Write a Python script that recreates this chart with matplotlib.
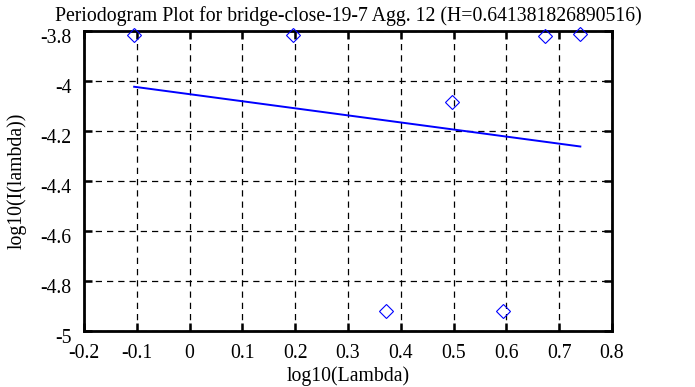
import matplotlib.pyplot as plt
from matplotlib.ticker import FuncFormatter
from matplotlib.transforms import ScaledTranslation

# periodogram points (log10 lambda, log10 I(lambda))
log_lambda = [-0.105, 0.196, 0.372, 0.497, 0.594, 0.673, 0.740]
log_i = [-3.816, -3.817, -4.919, -4.084, -4.919, -3.821, -3.813]

# fitted line endpoints
fit_x = [-0.105, 0.740]
fit_y = [-4.023, -4.262]

title = "Periodogram Plot for bridge-close-19-7 Agg. 12 (H=0.641381826890516)"

plt.rcParams['font.family'] = ['Liberation Serif', 'DejaVu Serif']
fs = 14.2

fig = plt.figure(figsize=(6.95, 3.87), dpi=100)
ax = fig.add_axes([84 / 695, 1 - 331 / 387, 528 / 695, 300 / 387])

ax.plot(log_lambda, log_i, linestyle='none', marker='D', markersize=7,
        markerfacecolor='none', markeredgecolor='#0000ff', markeredgewidth=0.8,
        clip_on=False, zorder=3)
ax.plot(fit_x, fit_y, color='#0000ff', linewidth=1.4, zorder=3)

ax.set_xlim(-0.2, 0.8)
ax.set_ylim(-5, -3.8)
ax.set_xticks([-0.2 + 0.1 * i for i in range(11)])
ax.set_yticks([-5 + 0.2 * i for i in range(7)])
fmt = FuncFormatter(lambda v, pos: '%g' % round(v, 2))
ax.xaxis.set_major_formatter(fmt)
ax.yaxis.set_major_formatter(fmt)

ax.grid(True, color='black', linestyle=(0, (5, 4)), linewidth=0.9)
ax.tick_params(direction='in', length=6, width=1.8, top=True, right=True,
               labelsize=fs)
ax.tick_params(axis='x', pad=9)
ax.tick_params(axis='y', pad=9)
for s in ax.spines.values():
    s.set_linewidth(2)

# gnuplot puts y labels a little below their ticks
shift = ScaledTranslation(0, -5 / 100, fig.dpi_scale_trans)
for lab in ax.get_yticklabels():
    lab.set_transform(lab.get_transform() + shift)

ax.set_title(title, fontsize=fs, pad=7)
ax.set_xlabel('log10(Lambda)', fontsize=fs, labelpad=3)
ax.set_ylabel('log10(I(lambda))', fontsize=fs, labelpad=10)

fig.savefig('out.png', dpi=100)
